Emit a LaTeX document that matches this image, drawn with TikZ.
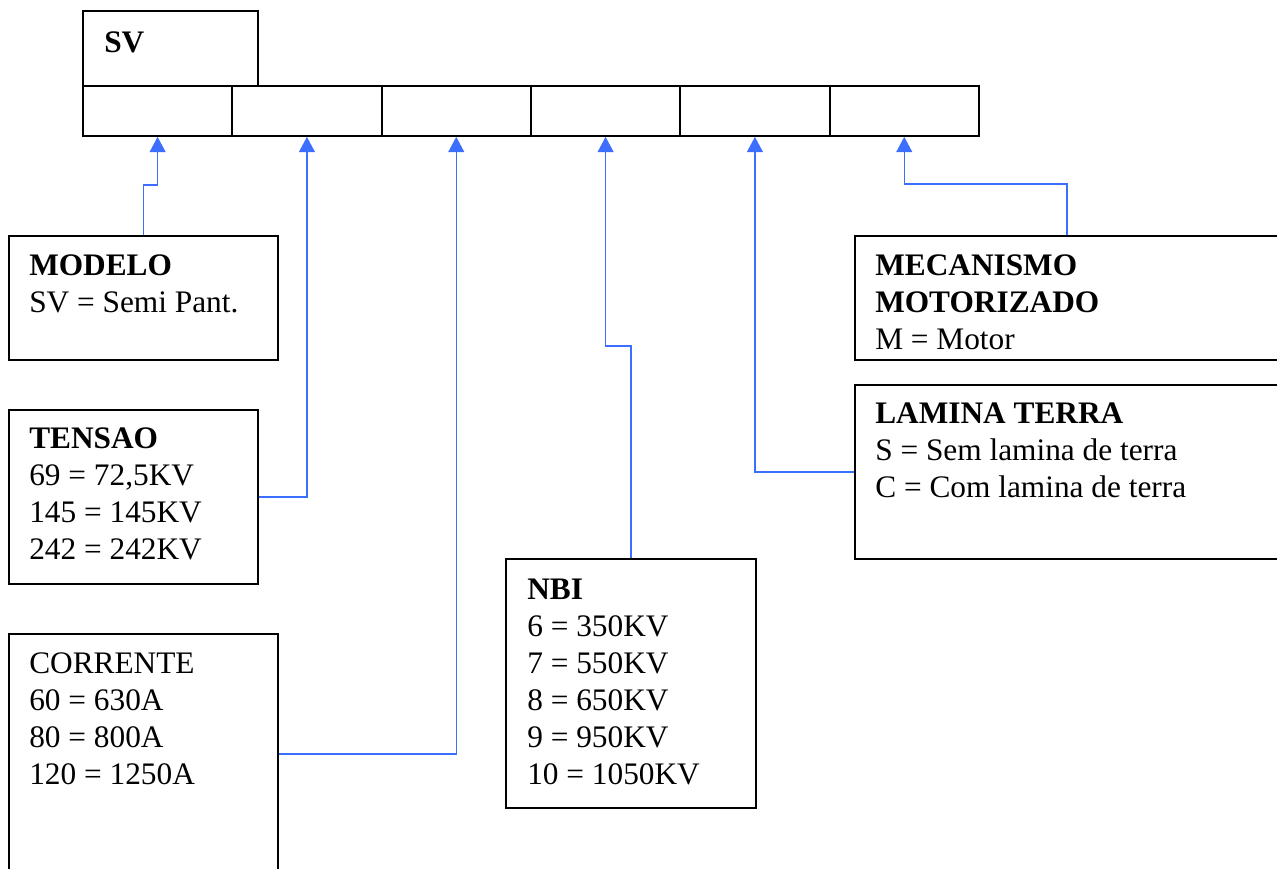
\documentclass[tikz,border=0pt]{standalone}
\usepackage{fontspec}
\setmainfont{Liberation Serif}
\usetikzlibrary{arrows.meta, positioning}
\definecolor{linkblue}{RGB}{61,111,255}

\tikzset{
  cell/.style={rectangle, draw=black, line width=1.4pt, minimum width=112pt, minimum height=37.5pt, anchor=north west},
  infobox/.style={rectangle, draw=black, line width=1.4pt, anchor=north west},
  txt/.style={anchor=north west, inner sep=0pt, align=left, font=\fontsize{23.5}{27.75}\selectfont},
  link/.style={draw=linkblue, line width=1pt, -{Triangle[width=12pt, length=11.5pt]}}
}

\begin{document}
\begin{tikzpicture}[x=0.75pt, y=-0.75pt]
\useasboundingbox (0,0) rectangle (1277,868);

% Code row
\node[cell, minimum width=131.25pt, minimum height=56.25pt] (svbox) at (82,10) {};
\node[txt] (svtext) at (104,31.5) {\textbf{SV}};
\foreach \i in {1,...,6}
  \node[cell] (c\i) at ({82+(\i-1)*149.33},85) {};

% Left boxes
\node[infobox, minimum width=201.75pt, minimum height=93pt] (modelo) at (8,235) {};
\node[txt] (modelotext) at (29,254.5) {\textbf{MODELO}\\SV = Semi Pant.};

\node[infobox, minimum width=186.75pt, minimum height=130.5pt] (tensao) at (8,409) {};
\node[txt] (tensaotext) at (29,427.5) {\textbf{TENSAO}\\69 = 72,5KV\\145 = 145KV\\242 = 242KV};

\node[infobox, minimum width=201.75pt, minimum height=180pt] (corrente) at (8,633) {};
\node[txt] (correntetext) at (29,652.5) {CORRENTE\\60 = 630A\\80 = 800A\\120 = 1250A};

% Middle box
\node[infobox, minimum width=187.5pt, minimum height=186.75pt] (nbi) at (505,558) {};
\node[txt] (nbitext) at (527,578.5) {\textbf{NBI}\\6 = 350KV\\7 = 550KV\\8 = 650KV\\9 = 950KV\\10 = 1050KV};

% Right boxes
\node[infobox, minimum width=318pt, minimum height=93pt] (mecanismo) at (854,235) {};
\node[txt] (mecanismotext) at (875,254.5) {\textbf{MECANISMO}\\\textbf{MOTORIZADO}\\M = Motor};

\node[infobox, minimum width=318pt, minimum height=130.5pt] (lamina) at (854,384) {};
\node[txt] (laminatext) at (875,402.5) {\textbf{LAMINA TERRA}\\S = Sem lamina de terra\\C = Com lamina de terra};

% Connectors
\draw[link] (modelo.north) -- ++(0,-50) -| (c1.south);
\draw[link] (tensao.east) -| (c2.south);
\draw[link] (corrente.east) -| (c3.south);
\draw[link] (nbi.north) -- ++(0,-212) -| (c4.south);
\draw[link] (lamina.west) -| (c5.south);
\draw[link] (mecanismo.north) -- ++(0,-51) -| (c6.south);
\end{tikzpicture}
\end{document}
